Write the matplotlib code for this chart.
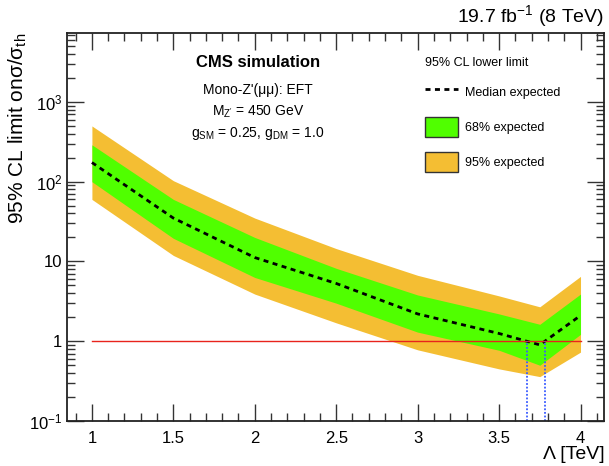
import numpy as np
import matplotlib

matplotlib.use("Agg")

import matplotlib.pyplot as plt
from matplotlib.patches import Patch
from matplotlib.lines import Line2D
from matplotlib.ticker import FixedLocator, MultipleLocator, LogLocator, NullFormatter

plt.rcParams["font.family"] = ["Liberation Sans", "DejaVu Sans"]
plt.rcParams["mathtext.fontset"] = "custom"
plt.rcParams["mathtext.rm"] = "Liberation Sans"
plt.rcParams["mathtext.it"] = "Liberation Sans:italic"
plt.rcParams["mathtext.bf"] = "Liberation Sans:bold"

# expected limits vs Lambda [TeV]
lam = [1.0, 1.5, 2.0, 2.5, 3.0, 3.5, 3.75, 4.0]
median = [174, 35, 11.2, 5.3, 2.2, 1.25, 0.9, 2.1]
up68 = [290, 60, 20, 8.2, 3.8, 2.2, 1.63, 3.9]
down68 = [100, 19.5, 6.3, 3.0, 1.3, 0.77, 0.5, 1.22]
up95 = [500, 103, 35, 14.5, 6.7, 3.7, 2.7, 6.5]
down95 = [60, 11.9, 3.9, 1.7, 0.78, 0.45, 0.36, 0.73]

GREEN = "#50ff00"
ORANGE = "#f4be33"


def crossings(x, y, level=1.0):
    # where the median crosses the level, log-interpolated like the drawn line
    out = []
    ly = np.log10(y)
    for i in range(len(x) - 1):
        a, b = ly[i], ly[i + 1]
        if (a - np.log10(level)) * (b - np.log10(level)) < 0:
            t = (np.log10(level) - a) / (b - a)
            out.append(x[i] + t * (x[i + 1] - x[i]))
    return out


fig = plt.figure(figsize=(6.09, 4.66), dpi=100)
ax = fig.add_axes([0.110, 0.0966, 0.882, 0.8324])

ax.fill_between(lam, down95, up95, color=ORANGE, lw=0)
ax.fill_between(lam, down68, up68, color=GREEN, lw=0)
ax.plot(lam, median, color="black", lw=2, ls=(0, (1.8, 1.6)))
ax.plot([lam[0], lam[-1]], [1, 1], color="#e8231c", lw=1)
for xc in crossings(lam, median):
    ax.plot([xc, xc], [0.1, 1], color="#3a5cff", lw=1.3, ls=(0, (1, 1)))

ax.set_yscale("log")
ax.set_xlim(0.847, 4.145)
ax.set_ylim(0.1, 7300)

ax.xaxis.set_major_locator(MultipleLocator(0.5))
ax.xaxis.set_minor_locator(MultipleLocator(0.1))
ax.set_xticks([1, 1.5, 2, 2.5, 3, 3.5, 4])
ax.set_xticklabels(["1", "1.5", "2", "2.5", "3", "3.5", "4"])
ax.yaxis.set_major_locator(FixedLocator([0.1, 1, 10, 100, 1000]))
ax.set_yticklabels(["10$^{-1}$", "1", "10", "10$^{2}$", "10$^{3}$"])
ax.yaxis.set_minor_locator(LogLocator(base=10, subs=np.arange(2, 10)))
ax.yaxis.set_minor_formatter(NullFormatter())

ax.tick_params(which="both", direction="in", top=True, right=True, labelsize=12, width=1, color="#333333")
ax.tick_params(which="major", length=12)
ax.tick_params(which="minor", length=6)
ax.tick_params(axis="x", pad=7)
for sp in ax.spines.values():
    sp.set_linewidth(1.3)
    sp.set_color("#222222")

fig.text(0.992, 0.965, "19.7 fb$^{-1}$ (8 TeV)", ha="right", va="center", fontsize=14)
fig.text(0.992, 0.025, "Λ [TeV]", ha="right", va="center", fontsize=14)
fig.text(0.03, 0.929, "95% CL limit onσ/σ$_{\\mathrm{th}}$", rotation=90, ha="center", va="top", fontsize=15)

ax.text(0.355, 0.925, "CMS simulation", transform=ax.transAxes, ha="center", va="center",
        fontsize=12, fontweight="bold")
ax.text(0.355, 0.853, "Mono-Z'(μμ): EFT", transform=ax.transAxes, ha="center", va="center", fontsize=10)
ax.text(0.355, 0.797, "M$_{\\mathrm{Z'}}$ = 450 GeV", transform=ax.transAxes, ha="center", va="center", fontsize=10)
ax.text(0.355, 0.742, "g$_{\\mathrm{SM}}$ = 0.25, g$_{\\mathrm{DM}}$ = 1.0", transform=ax.transAxes,
        ha="center", va="center", fontsize=10)

handles = [
    Line2D([], [], color="black", lw=2, ls=(0, (1.8, 1.6))),
    Patch(facecolor=GREEN, edgecolor="#333333", lw=1),
    Patch(facecolor=ORANGE, edgecolor="#333333", lw=1),
]
leg = ax.legend(handles, ["Median expected", "68% expected", "95% expected"],
                title="95% CL lower limit", alignment="left", loc="upper left",
                bbox_to_anchor=(0.646, 0.967), frameon=False, fontsize=9, title_fontsize=9,
                handlelength=2.64, handleheight=2.1, labelspacing=1.2, handletextpad=0.55)
leg._legend_box.sep = 9

fig.savefig("out.png", dpi=100)
